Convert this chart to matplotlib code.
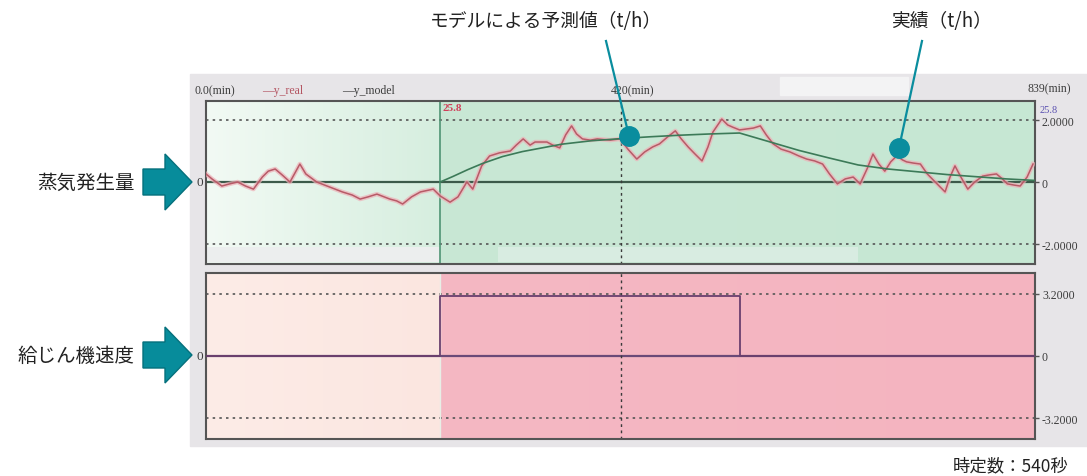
import matplotlib
matplotlib.use("Agg")
import matplotlib.pyplot as plt
from matplotlib.patches import Rectangle, Polygon
from matplotlib.lines import Line2D
from matplotlib.colors import LinearSegmentedColormap
import numpy as np

# ---- data -----------------------------------------------------------
# measured steam generation (t/h), time in minutes
t_real = [0, 6, 16, 24, 32, 40, 48, 57, 63, 70, 77, 85, 90, 95, 101, 112, 125, 138,
          148, 156, 164, 173, 186, 193, 199, 208, 217, 230, 237, 247, 255, 264, 270,
          279, 287, 297, 308, 314, 321, 328, 333, 345, 351, 358, 364, 370, 375, 381,
          389, 396, 409, 419, 427, 436, 444, 452, 459, 467, 475, 481, 488, 495, 502,
          508, 513, 522, 528, 533, 540, 547, 554, 561, 567, 574, 582, 591, 600, 608,
          616, 624, 631, 639, 647, 655, 662, 669, 675, 681, 687, 693, 699, 705, 709,
          716, 723, 730, 738, 748, 753, 758, 764, 771, 778, 786, 793, 800, 806, 811,
          818, 824, 831, 837]
y_real = [0.26, 0.10, -0.13, -0.06, 0.00, -0.13, -0.23, 0.16, 0.35, 0.42, 0.23, 0.00,
          0.29, 0.58, 0.26, 0.00, -0.16, -0.32, -0.42, -0.55, -0.48, -0.39, -0.55,
          -0.61, -0.71, -0.48, -0.32, -0.23, -0.45, -0.65, -0.48, 0.00, -0.23, 0.52,
          0.84, 0.94, 1.00, 1.19, 1.39, 1.19, 1.29, 1.29, 1.19, 1.10, 1.52, 1.81,
          1.55, 1.39, 1.35, 1.39, 1.35, 1.39, 1.06, 0.74, 0.97, 1.13, 1.23, 1.45,
          1.65, 1.39, 1.13, 0.90, 0.68, 1.13, 1.61, 2.03, 1.84, 1.77, 1.68, 1.71,
          1.74, 1.81, 1.52, 1.23, 1.06, 0.97, 0.84, 0.74, 0.68, 0.58, 0.26, -0.06,
          0.10, 0.16, -0.06, 0.42, 0.90, 0.58, 0.35, 0.65, 0.84, 0.71, 0.65, 0.61,
          0.58, 0.26, 0.00, -0.32, 0.16, 0.52, 0.16, -0.23, 0.00, 0.19, 0.23, 0.26,
          0.10, -0.06, -0.10, -0.13, 0.16, 0.58]

# model prediction (t/h)
t_model = [237, 250, 265, 280, 300, 320, 340, 360, 390, 420, 450, 480, 510, 540,
           570, 600, 630, 660, 690, 720, 750, 780, 810, 839]
y_model = [0.00, 0.18, 0.40, 0.60, 0.82, 0.98, 1.10, 1.22, 1.33, 1.40, 1.46, 1.51,
           1.55, 1.58, 1.30, 1.02, 0.78, 0.55, 0.42, 0.33, 0.24, 0.17, 0.10, 0.05]

# feeder speed step input
t_feed = [0, 237, 237, 540, 540, 839]
y_feed = [0.0, 0.0, 3.1, 3.1, 0.0, 0.0]

t_start, t_mid, t_end = 237, 420, 839
steam_ticks = [2.0, 0.0, -2.0]
steam_ticklabels = ["2.0000", "0", "-2.0000"]
feed_ticks = [3.2, 0.0, -3.2]
feed_ticklabels = ["3.2000", "0", "-3.2000"]
time_labels = ["0.0(min)", "420(min)", "839(min)"]
cursor_value = "25.8"

# ---- figure ---------------------------------------------------------
W, H = 1087, 477
fig = plt.figure(figsize=(W / 100, H / 100), dpi=100)
fig.patch.set_facecolor("white")


def fx(x):
    return x / W


def fy(y):
    return 1 - y / H


CJK = ["Noto Sans CJK JP", "DejaVu Sans"]
SMALL = dict(family="Liberation Serif", fontsize=8.5, color="#3c3c3c")
TEAL = "#0a8d9e"

# grey window background of the trend display
fig.patches.append(Rectangle((fx(190), fy(447)), fx(1087) - fx(190), fy(75) - fy(447),
                             transform=fig.transFigure, color="#e7e5e8", zorder=-2))
fig.patches.append(Rectangle((fx(780), fy(96)), fx(908) - fx(780), fy(78) - fy(96),
                             transform=fig.transFigure, color="#f3f3f4", zorder=-1))

ax1 = fig.add_axes([fx(206), fy(265), fx(1035) - fx(206), fy(102) - fy(265)])
ax2 = fig.add_axes([fx(206), fy(440), fx(1035) - fx(206), fy(274) - fy(440)])

ylim1 = (-2.645, 2.613)
ylim2 = (-4.28, 4.28)


def shade(ax, ylim, x0, x1, c0, c1):
    cmap = LinearSegmentedColormap.from_list("g", [c0, c1])
    grad = np.linspace(0, 1, 256).reshape(1, -1)
    ax.imshow(grad, cmap=cmap, extent=[x0, x1, ylim[0], ylim[1]], aspect="auto",
              zorder=0, interpolation="bicubic")


for ax, ylim in ((ax1, ylim1), (ax2, ylim2)):
    for s in ax.spines.values():
        s.set_color("#555555")
        s.set_linewidth(1.5)
    ax.set_xticks([])

shade(ax1, ylim1, 0, t_start, "#f2faf4", "#d6eedf")
shade(ax1, ylim1, t_start, t_end, "#c9e8d5", "#c6e7d3")
shade(ax2, ylim2, 0, t_start, "#fdece7", "#fbe6e0")
shade(ax2, ylim2, t_start, t_end, "#f5b8c3", "#f4b4c0")

for ax, ylim in ((ax1, ylim1), (ax2, ylim2)):
    ax.set_xlim(0, t_end)
    ax.set_ylim(*ylim)

# light scroll band at the bottom of the upper trend
ax1.add_patch(Rectangle((0, 0.012), t_start / t_end, 0.092, transform=ax1.transAxes,
                        color="#eceeee", zorder=0.5, lw=0))
ax1.add_patch(Rectangle((0.352, 0.012), 0.434, 0.092, transform=ax1.transAxes,
                        color="#d8ece1", zorder=0.5, lw=0))

# reference lines
dot = (0, (1.5, 2.5))
for v in (2.0, -2.0):
    ax1.axhline(v, color="#555555", lw=1.2, ls=dot, zorder=1)
for v in (3.2, -3.2):
    ax2.axhline(v, color="#555555", lw=1.2, ls=dot, zorder=1)
ax1.axhline(0, color="#3c5a4a", lw=1.6, zorder=2)
ax2.axhline(0, color="#6a4a78", lw=1.6, zorder=2)
ax1.axvline(t_start, color="#4f9474", lw=1.2, zorder=2)
ax2.axvline(t_start, color="#e8efe6", lw=1.0, zorder=1)
for ax in (ax1, ax2):
    ax.axvline(t_mid, color="#3a3a3a", lw=1.0, ls=(0, (2, 2.5)), zorder=2)

# trend lines
ax1.plot(t_real, y_real, color="#eeb0b7", lw=3.2, alpha=0.7, zorder=3,
         solid_joinstyle="round")
ax1.plot(t_real, y_real, color="#b85a67", lw=1.1, zorder=4, solid_joinstyle="round")
ax1.plot(t_model, y_model, color="#3c7a58", lw=1.2, zorder=5)
ax2.plot(t_feed, y_feed, color="#6a3f6e", lw=1.3, zorder=4)

# axis value labels
for ax, ticks, labels in ((ax1, steam_ticks, steam_ticklabels),
                          (ax2, feed_ticks, feed_ticklabels)):
    ax.set_yticks(ticks)
    ax.set_yticklabels(labels, family="Liberation Serif", fontsize=8.5, color="#3c3c3c")
    ax.tick_params(axis="y", left=False, labelleft=False, right=True, labelright=True,
                   length=3, width=1, color="#555555", pad=2)
    ax.text(-0.004, 0, "0", transform=ax.get_yaxis_transform(), ha="right",
            va="center", family="Liberation Serif", fontsize=9.5, color="#3c3c3c")

xt = ax1.get_xaxis_transform()
ax1.text(-12, 1.03, time_labels[0], transform=xt, ha="left", va="bottom", **SMALL)
ax1.text(t_mid - 10, 1.03, time_labels[1], transform=xt, ha="left", va="bottom", **SMALL)
ax1.text(t_end - 8, 1.04, time_labels[2], transform=xt, ha="left", va="bottom", **SMALL)
ax1.text(t_start + 2, 0.985, cursor_value, transform=xt, ha="left", va="top",
         family="Liberation Serif", fontsize=8, color="#d0405a", fontweight="bold")
ax1.text(t_end + 5, 0.975, cursor_value, transform=xt, ha="left", va="top",
         family="Liberation Serif", fontsize=7.5, color="#5a50b0")

# legend of the trend window
fig.text(fx(262), fy(91), "―y_real", ha="left", va="center",
         family="Liberation Serif", fontsize=8.5, color="#b45562")
fig.text(fx(342), fy(91), "―y_model", ha="left", va="center",
         family="Liberation Serif", fontsize=8.5, color="#3c3c3c")

# call-outs
fig.text(fx(546), fy(22), "モデルによる予測値（t/h）", ha="center", va="center",
         family=CJK, fontsize=13.5, color="#222222")
fig.text(fx(941), fy(22), "実績（t/h）", ha="center", va="center",
         family=CJK, fontsize=13.5, color="#222222")
fig.add_artist(Line2D([fx(606), fx(629)], [fy(42), fy(137)], transform=fig.transFigure,
                      color=TEAL, lw=1.6, marker="o", markevery=[1], markersize=14,
                      markerfacecolor=TEAL, markeredgecolor=TEAL, zorder=10))
fig.add_artist(Line2D([fx(922), fx(899)], [fy(42), fy(149)], transform=fig.transFigure,
                      color=TEAL, lw=1.6, marker="o", markevery=[1], markersize=14,
                      markerfacecolor=TEAL, markeredgecolor=TEAL, zorder=10))

# side labels with arrows
for yc, label in ((183, "蒸気発生量"), (356, "給じん機速度")):
    fig.text(fx(135), fy(yc), label, ha="right", va="center", family=CJK,
             fontsize=14, color="#222222")
    pts = [(143, yc - 13), (165, yc - 13), (165, yc - 28), (192, yc),
           (165, yc + 28), (165, yc + 13), (143, yc + 13)]
    fig.patches.append(Polygon([(fx(x), fy(y)) for x, y in pts], closed=True,
                               transform=fig.transFigure, facecolor="#078c9b",
                               edgecolor="#05707c", lw=1.0, zorder=3))

fig.text(fx(1068), fy(466), "時定数：540秒", ha="right", va="center", family=CJK,
         fontsize=12.5, color="#222222")

fig.savefig("out.png", dpi=100)
